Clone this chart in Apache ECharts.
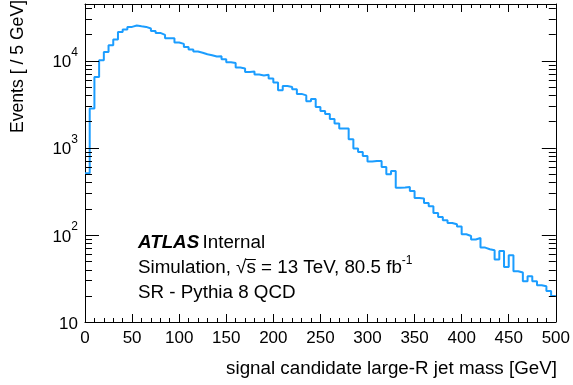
<!DOCTYPE html>
<html>
<head>
<meta charset="utf-8">
<script src="https://cdn.jsdelivr.net/npm/echarts@6/dist/echarts.min.js"></script>
<style>
  html, body { margin: 0; padding: 0; background: #fff; }
  #chart { width: 573px; height: 385px; }
</style>
</head>
<body>
<div id="chart"></div>
<script>
// Lower edges of the 5 GeV mass bins, plus the upper edge of the last bin
const binEdges = [
  0, 5, 10, 15, 20, 25, 30, 35, 40, 45, 50, 55, 60, 65, 70, 75, 80, 85, 90, 95,
  100, 105, 110, 115, 120, 125, 130, 135, 140, 145, 150, 155, 160, 165, 170, 175, 180, 185, 190, 195,
  200, 205, 210, 215, 220, 225, 230, 235, 240, 245, 250, 255, 260, 265, 270, 275, 280, 285, 290, 295,
  300, 305, 310, 315, 320, 325, 330, 335, 340, 345, 350, 355, 360, 365, 370, 375, 380, 385, 390, 395,
  400, 405, 410, 415, 420, 425, 430, 435, 440, 445, 450, 455, 460, 465, 470, 475, 480, 485, 490, 495,
  500
];

// Pythia 8 QCD events per bin in the signal region
const qcdEvents = [
  509, 2813, 6484, 10083, 12560, 14985, 17425, 21300, 22700, 24310,
  25220, 24760, 24310, 23310, 21870, 20740, 19680, 18040, 18040, 16100,
  15510, 14330, 13380, 12690, 12290, 11810, 11510, 11120, 11210, 10350,
  9565, 9390, 8315, 8096, 7402, 7479, 6909, 6747, 6873, 6217,
  5593, 4562, 5097, 4978, 4686, 4139, 3977, 3412, 3617, 2935,
  2641, 2433, 2132, 1893, 1659, 1659, 1250, 977.5, 893.6, 804,
  693, 704, 704, 601, 496, 541, 347, 349, 354, 319,
  265, 261, 232, 213, 178, 160, 147, 137, 132, 125,
  101.5, 97, 88.3, 92, 71.4, 68.3, 66.5, 52, 65.3, 42.8,
  58.3, 38.2, 36.9, 29.3, 33.5, 29.3, 26.4, 25.7, 22.7, 19.9
];

// Log-axis tick marks: [value, isMajor]
const yTickMarks = [
  [20, 0], [30, 0], [40, 0], [50, 0], [60, 0], [70, 0], [80, 0], [90, 0],
  [100, 1], [200, 0], [300, 0], [400, 0], [500, 0], [600, 0], [700, 0], [800, 0], [900, 0],
  [1000, 1], [2000, 0], [3000, 0], [4000, 0], [5000, 0], [6000, 0], [7000, 0], [8000, 0], [9000, 0],
  [10000, 1], [20000, 0], [30000, 0], [40000, 0]
];

const xRange = [0, 500];
const yRange = [10, 44500];

const FONT = '"Liberation Sans", Arial, Helvetica, sans-serif';
const LINE_COLOR = '#1b9dff';
const TEXT_SIZE = 18.8;
const YTITLE_SIZE = 17.6;
const LABEL_SIZE = 17;

// Histogram outline: one point per bin low edge, closing at the last upper edge
const stepData = qcdEvents.map((v, i) => [binEdges[i], v]);
stepData.push([binEdges[binEdges.length - 1], qcdEvents[qcdEvents.length - 1]]);

const chart = echarts.init(document.getElementById('chart'), null, { renderer: 'canvas' });

const xAxisCommon = {
  type: 'value',
  min: xRange[0],
  max: xRange[1],
  interval: 50,
  axisLine: { show: true, onZero: false, lineStyle: { color: '#000', width: 1 } },
  axisTick: { show: true, inside: true, length: 8, lineStyle: { color: '#000', width: 1 } },
  minorTick: { show: true, splitNumber: 5, length: 4, lineStyle: { color: '#000', width: 1 } },
  splitLine: { show: false },
  minorSplitLine: { show: false }
};

const yAxisCommon = {
  type: 'log',
  logBase: 10,
  min: yRange[0],
  max: yRange[1],
  axisLine: { show: true, onZero: false, lineStyle: { color: '#000', width: 1 } },
  axisTick: { show: false },
  splitLine: { show: false }
};

// Measure text so the radical bar can be laid over the "s"
function textWidth(str, size, weight, style) {
  const c = document.createElement('canvas').getContext('2d');
  c.font = (style || 'normal') + ' ' + (weight || 'normal') + ' ' + size + 'px ' + FONT;
  return c.measureText(str).width;
}

const textX = 138;
const preRoot = 'Simulation, \u221A';
const rootBarX = textX + textWidth(preRoot, TEXT_SIZE);
const rootBarW = textWidth('s', TEXT_SIZE);

const option = {
  animation: false,
  backgroundColor: '#fff',
  grid: { left: 85, right: 16, top: 4, bottom: 63, containLabel: false },
  xAxis: [
    Object.assign({}, xAxisCommon, {
      position: 'bottom',
      axisLabel: { show: true, margin: 8, color: '#000', fontSize: LABEL_SIZE, fontFamily: FONT }
    }),
    Object.assign({}, xAxisCommon, {
      position: 'top',
      axisLabel: { show: false }
    })
  ],
  yAxis: [
    Object.assign({}, yAxisCommon, {
      position: 'left',
      axisLabel: {
        show: true,
        margin: 7,
        showMaxLabel: false,
        color: '#000',
        formatter: function (v) {
          const e = Math.round(Math.log10(v));
          if (e === 1) return '{b|10}';
          return '{b|10}{s|' + e + '}';
        },
        rich: {
          b: { fontSize: LABEL_SIZE, fontFamily: FONT, color: '#000', lineHeight: 28, padding: [4, 0, 0, 0] },
          s: { fontSize: 12, fontFamily: FONT, color: '#000', lineHeight: 12, verticalAlign: 'top' }
        }
      }
    }),
    Object.assign({}, yAxisCommon, {
      position: 'right',
      axisLabel: { show: false }
    })
  ],
  series: [
    {
      name: 'Pythia 8 QCD',
      type: 'line',
      xAxisIndex: 0,
      yAxisIndex: 0,
      step: 'end',
      data: stepData,
      showSymbol: false,
      symbol: 'none',
      lineStyle: { color: LINE_COLOR, width: 2 },
      z: 3
    },
    {
      name: 'log ticks',
      type: 'custom',
      xAxisIndex: 0,
      yAxisIndex: 0,
      silent: true,
      clip: false,
      data: yTickMarks.map(t => [xRange[0], t[0], t[1]]),
      renderItem: function (params, api) {
        const v = api.value(1);
        const len = api.value(2) === 1 ? 14 : 7;
        const l = api.coord([xRange[0], v]);
        const r = api.coord([xRange[1], v]);
        const y = Math.round(l[1]) + 0.5;
        return {
          type: 'group',
          children: [
            { type: 'line', shape: { x1: l[0], y1: y, x2: l[0] + len, y2: y }, style: { stroke: '#000', lineWidth: 1 } },
            { type: 'line', shape: { x1: r[0] - len, y1: y, x2: r[0], y2: y }, style: { stroke: '#000', lineWidth: 1 } }
          ]
        };
      },
      z: 4
    }
  ],
  graphic: [
    {
      type: 'text',
      x: 557, y: 369,
      style: {
        text: 'signal candidate large-R jet mass [GeV]',
        font: TEXT_SIZE + 'px ' + FONT,
        fill: '#000',
        align: 'right',
        verticalAlign: 'middle'
      }
    },
    {
      type: 'text',
      x: 18, y: 0,
      rotation: Math.PI / 2,
      style: {
        text: 'Events [ / 5 GeV]',
        font: YTITLE_SIZE + 'px ' + FONT,
        fill: '#000',
        align: 'right',
        verticalAlign: 'middle'
      }
    },
    {
      type: 'text',
      x: textX, y: 243,
      style: {
        text: '{a|ATLAS} {b|Internal}',
        verticalAlign: 'middle',
        rich: {
          a: { fontSize: TEXT_SIZE, fontWeight: 'bold', fontStyle: 'italic', fontFamily: FONT, color: '#000' },
          b: { fontSize: TEXT_SIZE, fontFamily: FONT, color: '#000' }
        }
      }
    },
    {
      type: 'text',
      x: textX, y: 268,
      style: {
        text: '{b|Simulation, \u221As = 13 TeV, 80.5 fb}{s|-1}',
        verticalAlign: 'middle',
        rich: {
          b: { fontSize: TEXT_SIZE, fontFamily: FONT, color: '#000', lineHeight: 26 },
          s: { fontSize: 12, fontFamily: FONT, color: '#000', lineHeight: 12, verticalAlign: 'top' }
        }
      }
    },
    {
      type: 'line',
      shape: { x1: rootBarX - 0.5, y1: 259.5, x2: rootBarX + rootBarW, y2: 259.5 },
      style: { stroke: '#000', lineWidth: 1 }
    },
    {
      type: 'text',
      x: textX, y: 293,
      style: {
        text: 'SR - Pythia 8 QCD',
        font: TEXT_SIZE + 'px ' + FONT,
        fill: '#000',
        verticalAlign: 'middle'
      }
    }
  ]
};

chart.setOption(option);
</script>
</body>
</html>
